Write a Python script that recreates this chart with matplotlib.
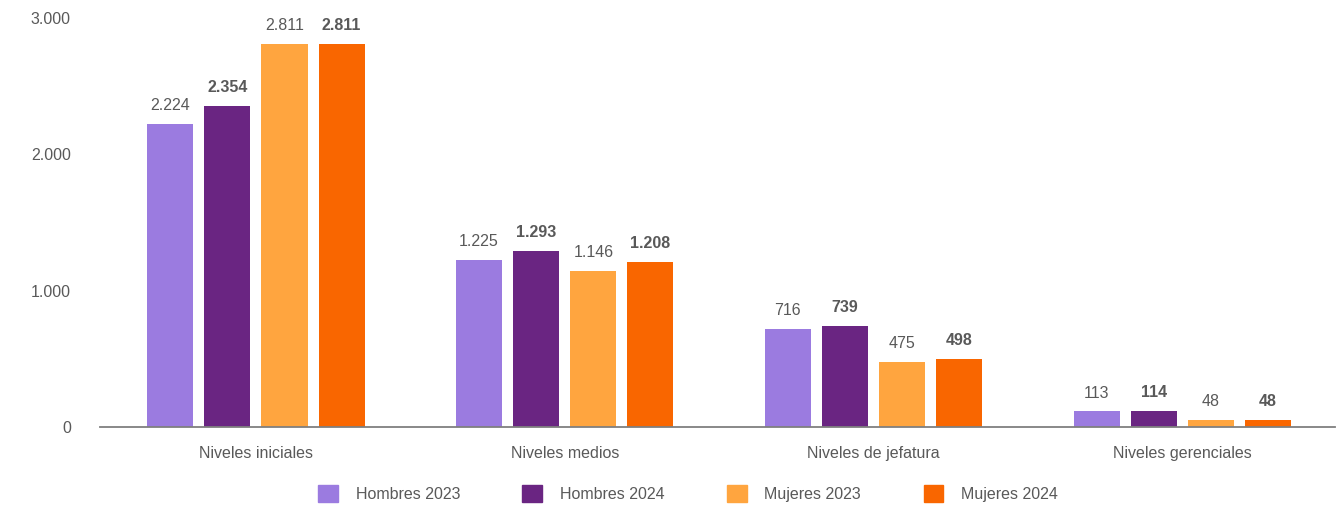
import matplotlib.pyplot as plt
from matplotlib.patches import Patch
import numpy as np

# niveles y series
categorias = ["Niveles iniciales", "Niveles medios", "Niveles de jefatura", "Niveles gerenciales"]
series = ["Hombres 2023", "Hombres 2024", "Mujeres 2023", "Mujeres 2024"]
hombres_2023 = [2224, 1225, 716, 113]
hombres_2024 = [2354, 1293, 739, 114]
mujeres_2023 = [2811, 1146, 475, 48]
mujeres_2024 = [2811, 1208, 498, 48]

colores = ["#9b7be0", "#6a2582", "#ffa53f", "#f96600"]
negrita = [False, True, False, True]
gris = "#595959"

plt.rcParams['font.family'] = ['Liberation Sans', 'DejaVu Sans']

fig = plt.figure(figsize=(13.42, 5.07), dpi=100)
ax = fig.add_axes([0.0745, 0.158, 0.9205, 0.8065])

x = np.arange(len(categorias))
ancho = 0.149
paso = 0.185
datos = [hombres_2023, hombres_2024, mujeres_2023, mujeres_2024]

for i, valores in enumerate(datos):
    pos = x + (i - 1.5) * paso
    ax.bar(pos, valores, width=ancho, color=colores[i])
    for xp, v in zip(pos, valores):
        txt = f"{v:,}".replace(",", ".")
        ax.text(xp, v + 80, txt, ha="center", va="bottom", fontsize=11.5, color=gris,
                fontweight="bold" if negrita[i] else "normal")

ax.set_xlim(-0.505, 3.495)
ax.set_ylim(0, 3000)
ax.set_yticks([0, 1000, 2000, 3000])
ax.set_yticklabels(["0", "1.000", "2.000", "3.000"])
ax.set_xticks(x)
ax.set_xticklabels(categorias)
ax.tick_params(axis="both", length=0, labelsize=11.5, colors=gris)
ax.tick_params(axis="y", pad=21)
ax.tick_params(axis="x", pad=14)

for lado in ["top", "right", "left"]:
    ax.spines[lado].set_visible(False)
ax.spines["bottom"].set_color("#7f7f7f")
ax.spines["bottom"].set_linewidth(1.3)

manejadores = [Patch(color=c, label=s) for c, s in zip(colores, series)]
fig.legend(handles=manejadores, loc="center", bbox_to_anchor=(0.5127, 0.026), ncol=4,
           frameon=False, fontsize=11.5, labelcolor=gris, handlelength=1.25, handleheight=1.25,
           handletextpad=1.1, columnspacing=3.9)

fig.savefig("out.png", dpi=100)
